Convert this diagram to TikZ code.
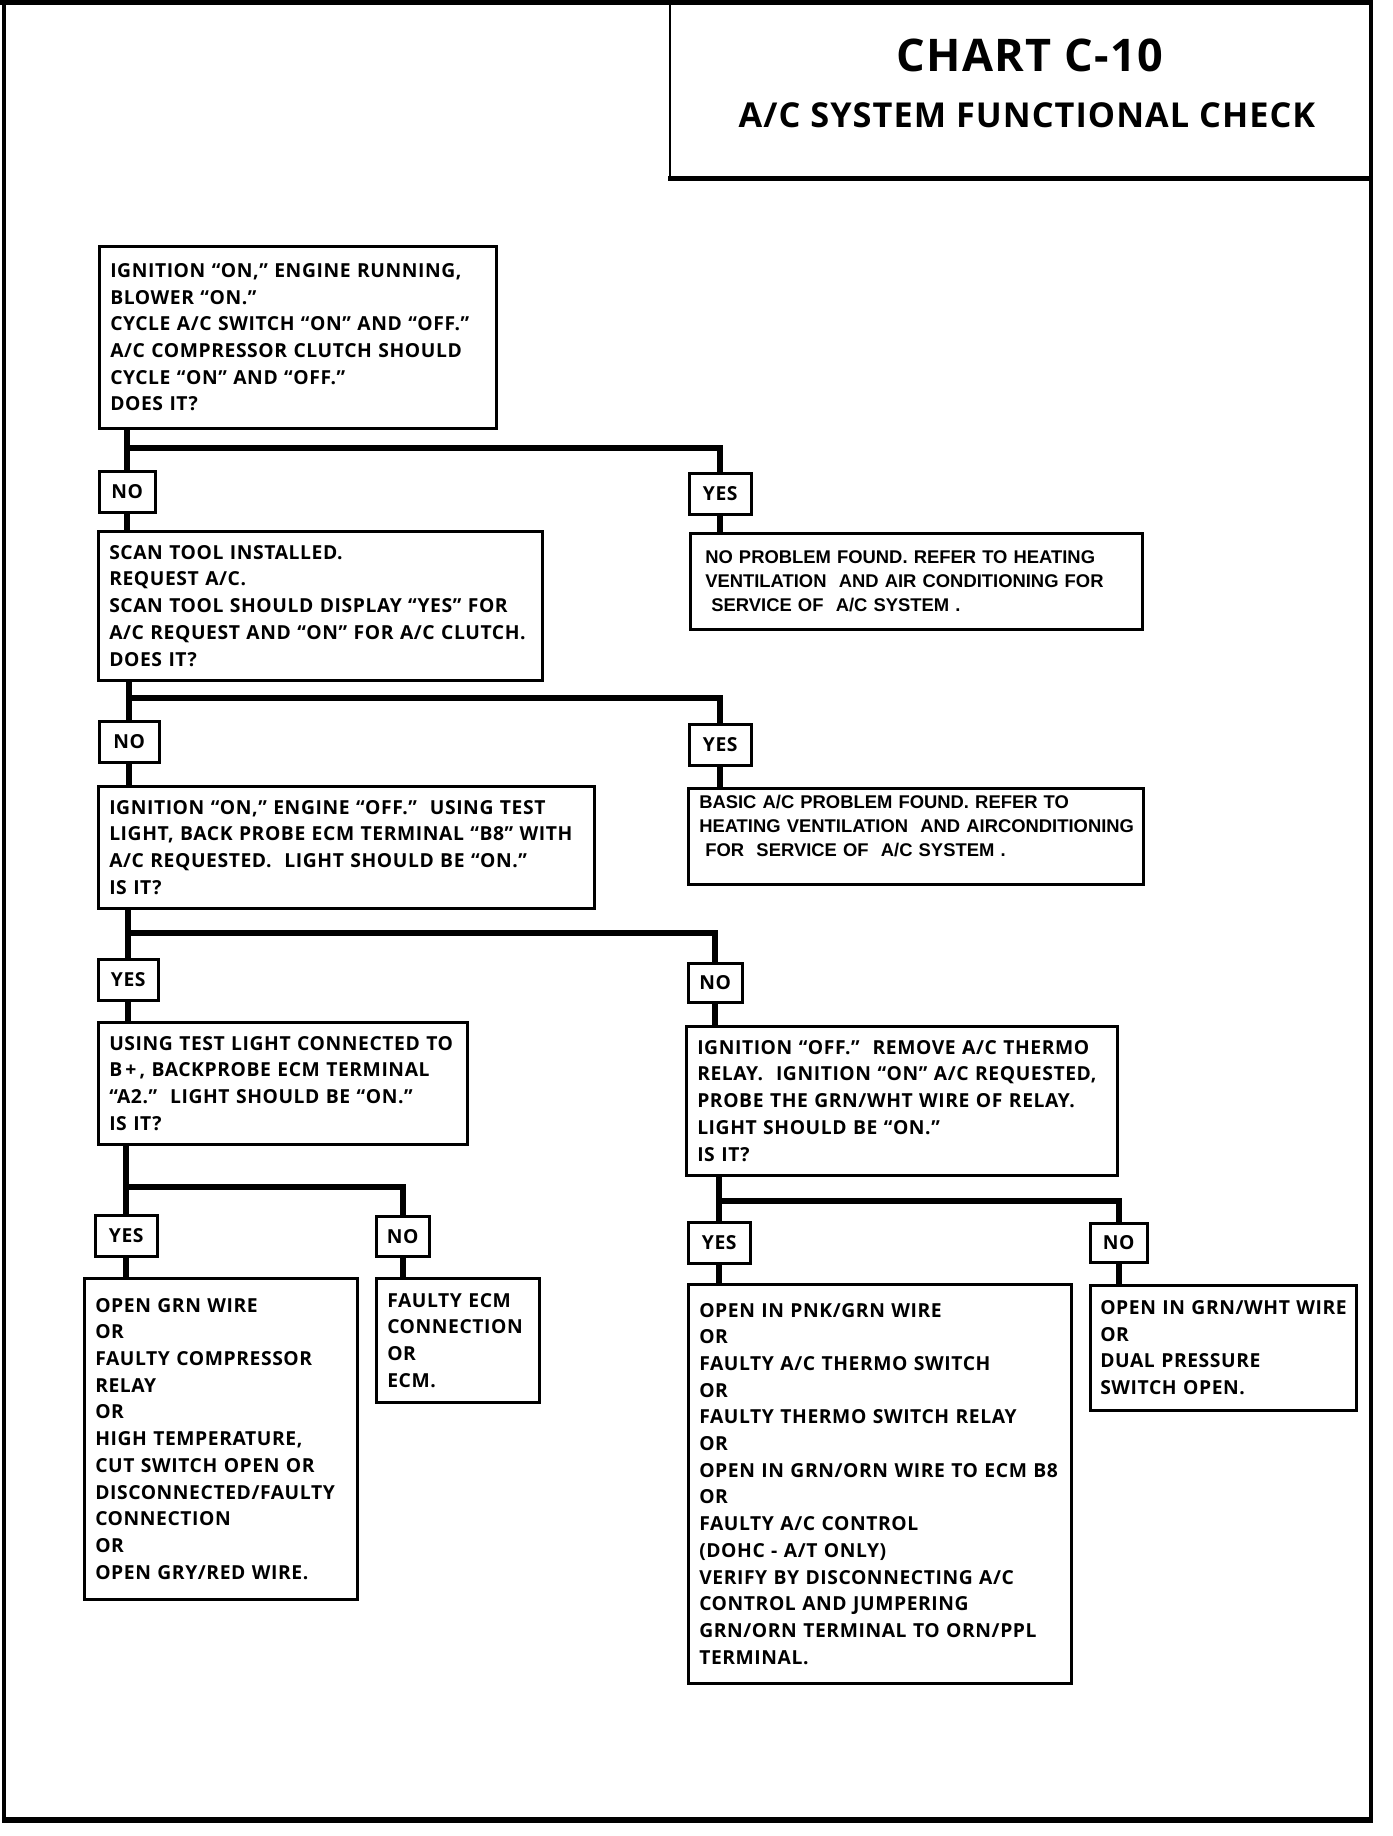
\documentclass[tikz,border=0pt]{standalone}
\usepackage{fontspec}
\usetikzlibrary{positioning}
\newfontfamily\chartfont{Open Sans}[LetterSpace=3]
\newfontfamily\helvfont{Liberation Sans}

\begin{document}
\begin{tikzpicture}[x=1pt,y=-1pt,
    box/.style={draw,line width=2.5pt,anchor=north west,align=left,inner xsep=11pt,inner ysep=0pt,
      font=\chartfont\bfseries\fontsize{19.3}{26.7}\selectfont},
    refbox/.style={box,inner xsep=15pt,font=\helvfont\bfseries\fontsize{18.4}{24}\selectfont},
    answer/.style={draw,line width=2.5pt,anchor=north west,inner sep=0pt,minimum height=41pt,
      font=\chartfont\bfseries\fontsize{19.3}{20}\selectfont},
    wire/.style={line width=6pt}]
  \useasboundingbox (0,0) rectangle (1392,1836);
  \draw[line width=4pt] (4,0) -- (4,1822);
  \draw[line width=4.5pt] (1371,0) -- (1371,1822);
  \draw[line width=5pt] (0,2.5) -- (1373,2.5);
  \draw[line width=6pt] (2,1819.5) -- (1373,1819.5);
  \draw[line width=2.5pt] (670,0) -- (670,178);
  \draw[line width=5pt] (668,178) -- (1373,178);
  \node[font=\chartfont\bfseries\fontsize{45}{45}\selectfont] (chart) at (1030,55) {CHART C-10};
  \node[font=\chartfont\bfseries\fontsize{34.3}{35}\selectfont] (title) at (1027,115) {A/C SYSTEM FUNCTIONAL CHECK};

  \node[box,text width=375pt,minimum height=182pt] (start) at (98,245) {IGNITION “ON,” ENGINE RUNNING,\\
    BLOWER “ON.”\\
    CYCLE A/C SWITCH “ON” AND “OFF.”\\
    A/C COMPRESSOR CLUTCH SHOULD\\
    CYCLE “ON” AND “OFF.”\\
    DOES IT?};
  \node[answer,minimum width=56pt] (no1) at (98,470) {NO};
  \node[answer,minimum width=62pt] (yes1) at (688,472) {YES};
  \node[refbox,text width=422pt,minimum height=96pt] (nofault) at (689,532) {NO PROBLEM FOUND. REFER TO HEATING\\
    \mbox{VENTILATION\ \ AND AIR CONDITIONING FOR}\\
    \ SERVICE OF\ \ A/C SYSTEM .};

  \node[box,text width=422pt,minimum height=149pt] (scan) at (97,530) {SCAN TOOL INSTALLED.\\
    REQUEST A/C.\\
    SCAN TOOL SHOULD DISPLAY “YES” FOR\\
    \mbox{A/C REQUEST AND “ON” FOR A/C CLUTCH.}\\
    DOES IT?};
  \node[answer,minimum width=60pt] (no2) at (98,720) {NO};
  \node[answer,minimum width=62pt] (yes2) at (688,723) {YES};
  \node[refbox,text width=433pt,inner xsep=11pt,minimum height=96pt] (basic) at (687,787) {BASIC A/C PROBLEM FOUND. REFER TO\\
    \mbox{HEATING VENTILATION\ \ AND AIRCONDITIONING}\\
    \ FOR\ \ SERVICE OF\ \ A/C SYSTEM .\\[-4pt]
    \mbox{}};

  \node[box,text width=474pt,minimum height=122pt] (bterm) at (97,785) {IGNITION “ON,” ENGINE “OFF.”\ \ USING TEST\\
    \mbox{LIGHT, BACK PROBE ECM TERMINAL “B8” WITH}\\
    A/C REQUESTED.\ \ LIGHT SHOULD BE “ON.”\\
    IS IT?};
  \node[answer,minimum width=60pt] (yes3) at (97,958) {YES};
  \node[answer,minimum width=54pt,minimum height=39pt] (no3) at (687,962) {NO};

  \node[box,text width=347pt,minimum height=122pt] (aterm) at (97,1021) {USING TEST LIGHT CONNECTED TO\\
    B\,+\,, BACKPROBE ECM TERMINAL\\
    “A2.”\ \ LIGHT SHOULD BE “ON.”\\
    IS IT?};
  \node[box,text width=409pt,minimum height=149pt] (relay) at (685,1025) {IGNITION “OFF.”\ \ REMOVE A/C THERMO\\
    \mbox{RELAY.\ \ IGNITION “ON” A/C REQUESTED,}\\
    PROBE THE GRN/WHT WIRE OF RELAY.\\
    LIGHT SHOULD BE “ON.”\\
    IS IT?};

  \node[answer,minimum width=62pt] (yes4) at (94,1214) {YES};
  \node[answer,minimum width=53pt,minimum height=40pt] (no4) at (375,1215) {NO};
  \node[box,text width=251pt,minimum height=321pt] (compfix) at (83,1277) {OPEN GRN WIRE\\
    OR\\
    FAULTY COMPRESSOR\\
    RELAY\\
    OR\\
    HIGH TEMPERATURE,\\
    CUT SWITCH OPEN OR\\
    \mbox{DISCONNECTED/FAULTY}\\
    CONNECTION\\
    OR\\
    OPEN GRY/RED WIRE.};
  \node[box,text width=141pt,minimum height=124pt] (ecmfix) at (375,1277) {FAULTY ECM\\
    CONNECTION\\
    OR\\
    ECM.};

  \node[answer,minimum width=62pt] (yes5) at (687,1221) {YES};
  \node[answer,minimum width=57pt,minimum height=39pt] (no5) at (1089,1222) {NO};
  \node[box,text width=361pt,minimum height=399pt] (wirefix) at (687,1283) {OPEN IN PNK/GRN WIRE\\
    OR\\
    FAULTY A/C THERMO SWITCH\\
    OR\\
    FAULTY THERMO SWITCH RELAY\\
    OR\\
    \mbox{OPEN IN GRN/ORN WIRE TO ECM B8}\\
    OR\\
    FAULTY A/C CONTROL\\
    (DOHC - A/T ONLY)\\
    VERIFY BY DISCONNECTING A/C\\
    CONTROL AND JUMPERING\\
    GRN/ORN TERMINAL TO ORN/PPL\\
    TERMINAL.};
  \node[box,text width=246pt,inner xsep=10pt,minimum height=125pt] (dualfix) at (1089,1284) {\mbox{OPEN IN GRN/WHT WIRE}\\
    OR\\
    DUAL PRESSURE\\
    SWITCH OPEN.};

  \draw[wire] (start.south -| no1) -- (no1.north);
  \draw[wire] (no1.north) ++(0,-22) -| (yes1.north);
  \draw[wire] (no1.south) -- (no1.south |- scan.north);
  \draw[wire] (yes1.south) -- (yes1.south |- nofault.north);
  \draw[wire] (scan.south -| no2) -- (no2.north);
  \draw[wire] (no2.north) ++(0,-22) -| (yes2.north);
  \draw[wire] (no2.south) -- (no2.south |- bterm.north);
  \draw[wire] (yes2.south) -- (yes2.south |- basic.north);
  \draw[wire] (bterm.south -| yes3) -- (yes3.north);
  \draw[wire] (yes3.north) ++(0,-25) -| (no3.north);
  \draw[wire] (yes3.south) -- (yes3.south |- aterm.north);
  \draw[wire] (no3.south) -- (no3.south |- relay.north);
  \draw[wire] (aterm.south -| yes4) -- (yes4.north);
  \draw[wire] (yes4.north) ++(0,-27) -| (no4.north);
  \draw[wire] (yes4.south) -- (yes4.south |- compfix.north);
  \draw[wire] (no4.south) -- (no4.south |- ecmfix.north);
  \draw[wire] (relay.south -| yes5) -- (yes5.north);
  \draw[wire] (yes5.north) ++(0,-20) -| (no5.north);
  \draw[wire] (yes5.south) -- (yes5.south |- wirefix.north);
  \draw[wire] (no5.south) -- (no5.south |- dualfix.north);
\end{tikzpicture}
\end{document}
